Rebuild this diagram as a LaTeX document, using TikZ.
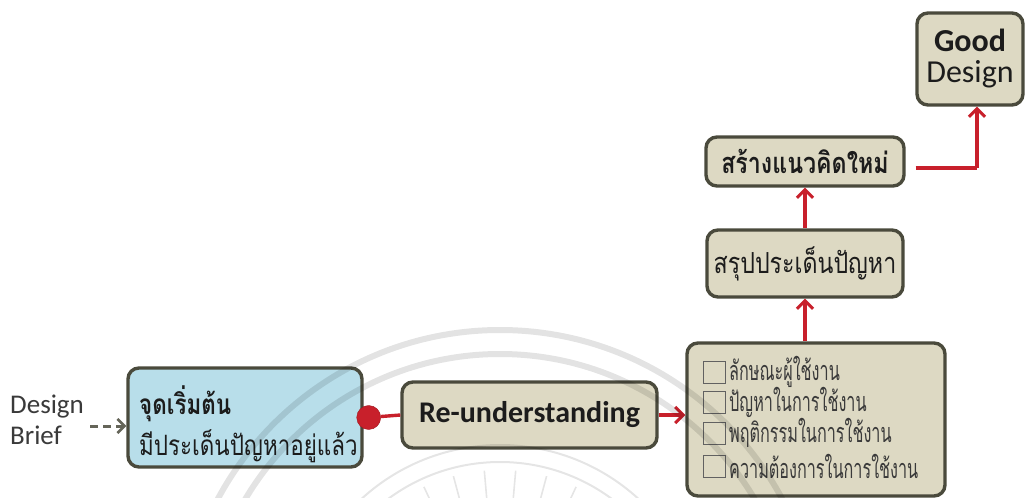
\documentclass[tikz,border=0pt]{standalone}
\usepackage{fontspec}
\setmainfont{Carlito}
\newfontfamily\thai[Script=Thai,FakeStretch=0.8]{Loma}
\newfontfamily\thainarrow[Script=Thai,FakeStretch=0.6]{Loma}
\usetikzlibrary{arrows.meta}

\definecolor{boxfill}{HTML}{DDD9C3}
\definecolor{boxline}{HTML}{4A4A3C}
\definecolor{bluefill}{HTML}{B8DEEA}
\definecolor{flowred}{HTML}{C8202B}
\definecolor{textgray}{HTML}{3A3A3A}
\definecolor{inkdark}{HTML}{1C1C1C}

\tikzset{
  flowbox/.style={draw=boxline, line width=3.4pt, fill=boxfill, rounded corners=11pt,
                  inner sep=0pt, text=inkdark},
  startbox/.style={flowbox, fill=bluefill},
  flowarrow/.style={draw=flowred, line width=3.4pt,
                    -{Straight Barb[length=8pt,width=16pt,line width=3pt]}},
  flowline/.style={draw=flowred, line width=3.4pt},
  reddot/.style={circle, fill=flowred, draw=flowred!80!black, minimum size=24pt, inner sep=0pt},
  tickbox/.style={draw=textgray!80, line width=1pt, minimum size=22pt, inner sep=0pt},
  checkitem/.style={anchor=west, inner sep=0pt, text=textgray,
                    font=\thainarrow\fontsize{27}{29}\selectfont},
  emblemband/.style={draw=black, opacity=0.11, line width=6pt},
  emblemline/.style={draw=black, opacity=0.10, line width=2pt},
}

\begin{document}
\begin{tikzpicture}[x=1pt, y=-1pt]
  \useasboundingbox (0,0) rectangle (1029,498);
  \fill[white] (0,0) rectangle (1029,498);

  % input label
  \node[anchor=west, align=left, text=textgray, inner sep=0pt,
        font=\fontsize{27}{31}\selectfont] (brief) at (10,420) {Design\\Brief};
  \coordinate (briefout) at (90,426);

  % process boxes
  \node[startbox, minimum width=234pt, minimum height=99pt] (start) at (245,417.5) {};
  \node[anchor=west, align=left, inner sep=0pt, text=inkdark] (starttext) at (139,424)
       {{\thai\bfseries\fontsize{28}{30}\selectfont จุดเริ่มต้น}\\[7pt]
        {\thai\fontsize{28}{30}\selectfont มีประเด็นปัญหาอยู่แล้ว}};
  \node[flowbox, minimum width=255pt, minimum height=66pt,
        font=\bfseries\fontsize{30}{32}\selectfont] (reund) at (529.5,415) {Re-understanding};
  \node[flowbox, minimum width=258pt, minimum height=153pt] (check) at (816,419.5) {};
  \node[flowbox, minimum width=196pt, minimum height=67pt,
        font=\thai\fontsize{29}{31}\selectfont] (summ) at (805,263.5) {สรุปประเด็นปัญหา};
  \node[flowbox, minimum width=198pt, minimum height=49pt,
        font=\thai\bfseries\fontsize{29}{31}\selectfont] (newidea) at (805,161.5) {สร้างแนวคิดใหม่};
  \node[flowbox, minimum width=106pt, minimum height=92pt, align=center,
        font=\fontsize{32}{31}\selectfont] (good) at (970,59) {\textbf{Good}\\Design};

  % checklist inside the fourth box
  \node[tickbox] (t1) at (714,372) {};
  \node[tickbox] (t2) at (714,402) {};
  \node[tickbox] (t3) at (714,433) {};
  \node[tickbox] (t4) at (714,466) {};
  \node[checkitem] (c1) at (729,372) {ลักษณะผู้ใช้งาน};
  \node[checkitem] (c2) at (729,402) {ปัญหาในการใช้งาน};
  \node[checkitem] (c3) at (729,433) {พฤติกรรมในการใช้งาน};
  \node[checkitem] (c4) at (729,466) {ความต้องการในการใช้งาน};

  % connectors
  \draw[draw=boxline!85, line width=3pt, dash pattern=on 8pt off 5pt,
        -{Straight Barb[length=7pt,width=14pt,line width=2.6pt]}]
       (briefout) -- (start.west |- briefout);
  \node[reddot] (dot) at ([xshift=5pt]start.east) {};
  \draw[flowline] (dot) -- (reund.west);
  \draw[flowarrow] (reund.east) -- (check.west |- reund.east);
  \draw[flowarrow] (summ.south |- check.north) -- (summ.south);
  \draw[flowarrow] (summ.north) -- (newidea.south);
  \coordinate (turn) at (977,168);
  \draw[flowline, shorten <=10pt] (newidea.east |- turn) -- (turn);
  \draw[flowarrow] (turn) -- (turn |- good.south);

  % faint emblem in the lower half
  \begin{scope}
    \clip (0,0) rectangle (1029,498);
    \draw[emblemband] (500,650) circle (320);
    \draw[emblemband] (500,650) circle (296);
    \draw[emblemline] (500,650) circle (205);
    \draw[emblemline] (500,650) circle (188);
    \foreach \a in {35,45,...,145}
      \draw[emblemline, line width=1.6pt] (500,650) ++(-\a:95) -- ++(-\a:85);
  \end{scope}
\end{tikzpicture}
\end{document}
